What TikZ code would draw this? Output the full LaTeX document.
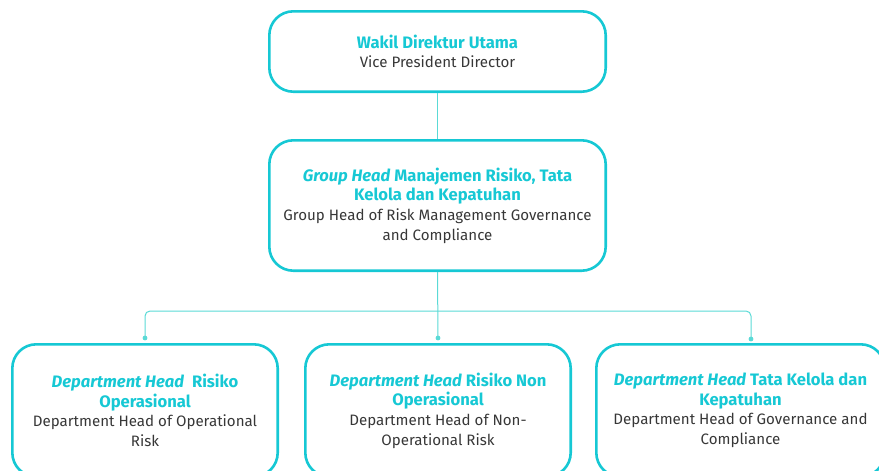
\documentclass[tikz,border=0pt]{standalone}
\usepackage{fontspec}
\setmainfont{Fira Sans}
\usetikzlibrary{positioning,calc}
\definecolor{orgCyan}{RGB}{22,200,212}
\definecolor{orgLine}{RGB}{90,218,214}
\definecolor{orgText}{RGB}{55,55,55}

\tikzset{
  orgbox/.style={draw=orgCyan, line width=2.6pt, rounded corners=24pt,
    align=center, text=orgText, inner sep=0pt,
    font=\fontsize{15.1}{19.6}\selectfont},
  orglink/.style={draw=orgLine, line width=1pt},
}
\newcommand{\ttl}[1]{\textcolor{orgCyan}{\fontsize{16.6}{19.6}\selectfont\bfseries #1}}
\newcommand{\ttli}[1]{\textcolor{orgCyan}{\fontsize{16.6}{19.6}\selectfont\bfseries\itshape #1}}

\begin{document}
\begin{tikzpicture}[x=1pt,y=-1pt]
  \useasboundingbox (0,0) rectangle (879,471);
  \clip (0,0) rectangle (879,471);
  % directors
  \node[orgbox, minimum width=336.4pt, minimum height=80.4pt] (wadirut) at (437.5,51.5)
    {\ttl{Wakil Direktur Utama}\\Vice President Director};
  \node[orgbox, minimum width=336.4pt, minimum height=130.4pt] (grouphead) at (437.5,205.5)
    {\ttli{Group Head} \ttl{Manajemen Risiko, Tata}\\\ttl{Kelola dan Kepatuhan}\\
     Group Head of Risk Management Governance\\and Compliance};
  % departments
  \node[orgbox, minimum width=265.4pt, minimum height=132.4pt] (deptops) at (145,410.5)
    {\ttli{Department Head}\ \ \ttl{Risiko}\\\ttl{Operasional}\\
     Department Head of Operational\\Risk};
  \node[orgbox, minimum width=265.4pt, minimum height=132.4pt] (deptnon) at (438,410.5)
    {\ttli{Department Head} \ttl{Risiko Non}\\\ttl{Operasional}\\
     Department Head of Non-\\Operational Risk};
  \node[orgbox, minimum width=288.4pt, minimum height=132.4pt] (deptgov) at (740.5,410.5)
    {\ttli{Department Head} \ttl{Tata Kelola dan}\\\ttl{Kepatuhan}\\
     Department Head of Governance and\\Compliance};
  % links
  \coordinate (bus) at ($(grouphead.south)+(0,39)$);
  \coordinate (tapops) at ($(deptops.north)+(0,-5)$);
  \coordinate (tapnon) at ($(deptnon.north)+(0,-5)$);
  \coordinate (tapgov) at (751,339);
  \draw[orglink] (wadirut.south) -- (grouphead.north);
  \draw[orglink] (grouphead.south) -- (tapnon);
  \draw[orglink, rounded corners=5pt] (tapops) |- (bus) -| (tapgov);
  \foreach \t in {tapops,tapnon,tapgov}
    \fill[orgLine] (\t) circle (2.4pt);
\end{tikzpicture}
\end{document}
